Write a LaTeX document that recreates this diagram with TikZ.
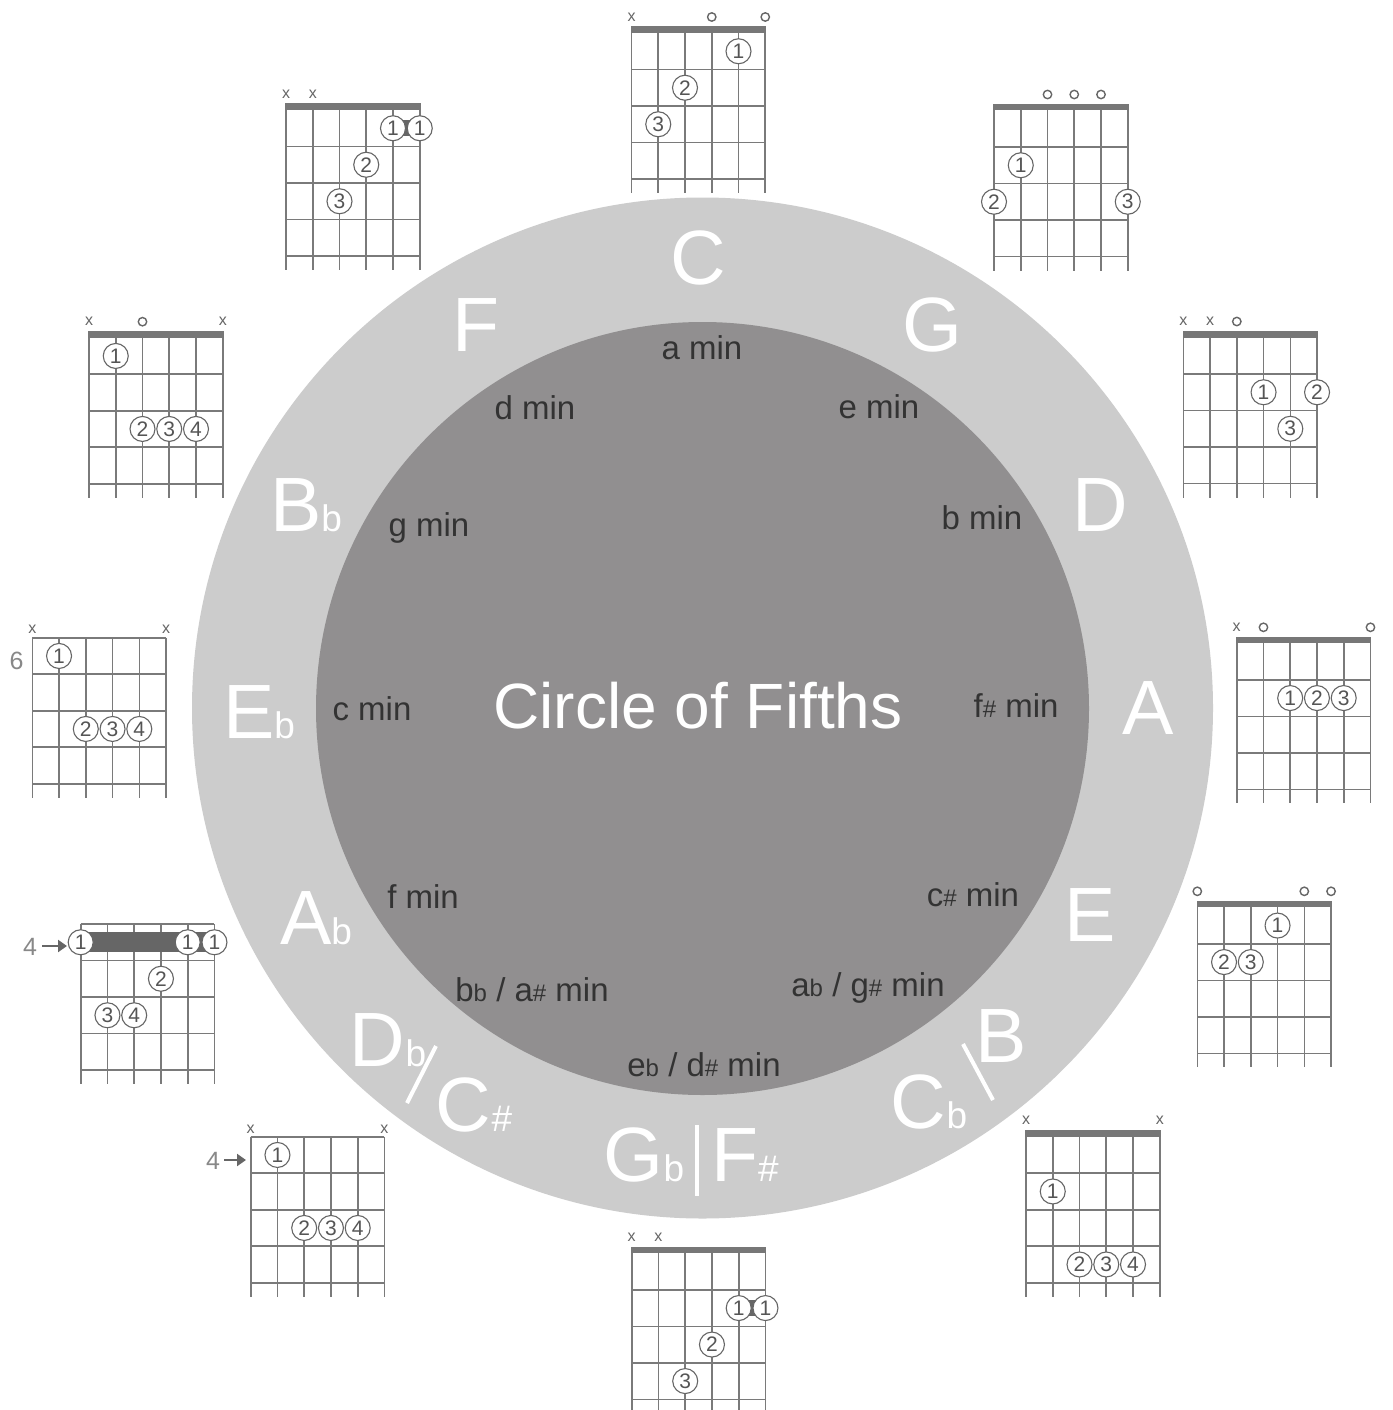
\documentclass[tikz,border=0pt]{standalone}
\usepackage{fontspec}
\setmainfont{Liberation Sans}
\usetikzlibrary{arrows.meta}
\definecolor{ring}{HTML}{CCCCCC}
\definecolor{disk}{HTML}{918F90}
\definecolor{minc}{HTML}{333333}
\definecolor{gline}{HTML}{7A7A7A}
\definecolor{nutc}{HTML}{777777}
\definecolor{fingc}{HTML}{666666}
\definecolor{numc}{HTML}{555555}
\definecolor{lblc}{HTML}{888888}
\newcommand\fsz[1]{\fontsize{#1}{#1}\selectfont}
\newcommand\sma[1]{{\fsz{37}#1}}
\newcommand\smi[1]{{\fsz{24}#1}}
\newcommand\grid[3]{%
  \def\gx{#1}\def\gy{#2}%
  \foreach \i in {0,...,5} \draw[strg] ({#1+\i*26.75},{#2}) -- ({#1+\i*26.75},{#2+160});
  \foreach \k in {1,...,4} \draw[strg] ({#1},{#2+\k*36.5}) -- ({#1+133.75},{#2+\k*36.5});
  \ifnum#3=1 \fill[nutc] ({#1-0.8},{#2-6.5}) rectangle ({#1+134.55},{#2});
  \else \draw[strg] ({#1},{#2}) -- ({#1+133.75},{#2}); \fi
}
\newcommand\fing[3]{\node[finger] at ({\gx+#1*26.75},{\gy+(#2-0.5)*36.5}) {#3};}
\newcommand\xm[2]{\node[xmk] at ({\gx+#1*26.75},{\gy-#2}) {x};}
\newcommand\om[2]{\draw[omk] ({\gx+#1*26.75},{\gy-#2}) circle (4.2);}
\newcommand\barre[4]{\fill[fingc] ({\gx+#1*26.75},{\gy+(#3-0.5)*36.5-#4}) rectangle ({\gx+#2*26.75},{\gy+(#3-0.5)*36.5+#4});}
\begin{document}
\begin{tikzpicture}[x=1pt,y=-1pt,
  strg/.style={draw=gline, line width=1.6pt},
  finger/.style={circle, draw=fingc, fill=white, line width=1.1pt, minimum size=25pt, inner sep=0pt, text=numc, font=\fsz{21}},
  xmk/.style={text=fingc, font=\fsz{16}, inner sep=0pt},
  omk/.style={draw=fingc, line width=1.4pt},
  maj/.style={text=white, font=\fsz{77}, inner sep=0pt},
  mino/.style={text=minc, font=\fsz{33}, inner sep=0pt},
  sep/.style={draw=white, line width=4pt},
  fretlbl/.style={text=lblc, font=\fsz{25}, inner sep=0pt},
  arr/.style={draw=fingc, line width=2.6pt, -{Triangle[length=9pt,width=12pt]}},
]
\useasboundingbox (0,0) rectangle (1392,1410);
\fill[white] (0,0) rectangle (1392,1410);
% circles
\fill[ring] (702.5,708) circle (510.5);
\fill[disk] (702.5,708.5) circle (386.5);
\node[text=white, font=\fsz{64}, inner sep=0pt] (title) at (698,706) {Circle of Fifths};
% major keys
\node[maj] (kC) at (698,258) {C};
\node[maj] (kG) at (932,325) {G};
\node[maj] (kD) at (1100,505) {D};
\node[maj] (kA) at (1148,708) {A};
\node[maj] (kE) at (1090,915) {E};
\node[maj] (kB) at (1001,1036) {B};
\node[maj] (kCb) at (929,1102) {C\sma{b}};
\node[maj] (kGb) at (644,1155) {G\sma{b}};
\node[maj] (kFs) at (745,1155) {F\sma{\#}};
\node[maj] (kDb) at (388,1040) {D\sma{b}};
\node[maj] (kCs) at (474,1105) {C\sma{\#}};
\node[maj] (kAb) at (316,918) {A\sma{b}};
\node[maj] (kEb) at (259,712) {E\sma{b}};
\node[maj] (kBb) at (306,505) {B\sma{b}};
\node[maj] (kF) at (476,325) {F};
\coordinate (s1a) at (407,1103); \coordinate (s1b) at (436,1046);
\coordinate (s2a) at (963,1044); \coordinate (s2b) at (993,1100);
\coordinate (s3a) at (697,1125); \coordinate (s3b) at (697,1196);
\draw[sep] (s1a) -- (s1b);
\draw[sep] (s2a) -- (s2b);
\draw[sep] (s3a) -- (s3b);
% minor keys
\node[mino] (ma) at (702,348) {a min};
\node[mino] (me) at (879,407) {e min};
\node[mino] (mb) at (982,518) {b min};
\node[mino] (mfs) at (1016,706) {f\smi{\#} min};
\node[mino] (mcs) at (973,895) {c\smi{\#} min};
\node[mino] (mab) at (868,988) {a\smi{b} / g\smi{\#} min};
\node[mino] (meb) at (704,1065) {e\smi{b} / d\smi{\#} min};
\node[mino] (mbb) at (532,990) {b\smi{b} / a\smi{\#} min};
\node[mino] (mf) at (423,897) {f min};
\node[mino] (mc) at (372,709) {c min};
\node[mino] (mg) at (429,528) {g min};
\node[mino] (md) at (535,408) {d min};
% C
\grid{631.5}{33}{1}
\xm{0}{16}\om{3}{16}\om{5}{16}
\fing{4}{1}{1}\fing{2}{2}{2}\fing{1}{3}{3}
% G
\grid{994}{110.5}{1}
\om{2}{16}\om{3}{16}\om{4}{16}
\fing{1}{2}{1}\fing{0}{3}{2}\fing{5}{3}{3}
% D
\grid{1183.3}{337.5}{1}
\xm{0}{16}\xm{1}{16}\om{2}{16}
\fing{3}{2}{1}\fing{5}{2}{2}\fing{4}{3}{3}
% A
\grid{1236.7}{643.3}{1}
\xm{0}{16}\om{1}{16}\om{5}{16}
\fing{2}{2}{1}\fing{3}{2}{2}\fing{4}{2}{3}
% E
\grid{1197.3}{907.3}{1}
\om{0}{16}\om{4}{16}\om{5}{16}
\fing{3}{1}{1}\fing{1}{2}{2}\fing{2}{2}{3}
% B
\grid{1026}{1136.7}{1}
\xm{0}{16}\xm{5}{16}
\fing{1}{2}{1}\fing{2}{4}{2}\fing{3}{4}{3}\fing{4}{4}{4}
% F#
\grid{631.7}{1253.3}{1}
\xm{0}{16}\xm{1}{16}
\barre{4}{5}{2}{8}
\fing{4}{2}{1}\fing{5}{2}{1}\fing{3}{3}{2}\fing{2}{4}{3}
% Db
\grid{250.7}{1136.7}{0}
\xm{0}{7}\xm{5}{7}
\fing{1}{1}{1}\fing{2}{3}{2}\fing{3}{3}{3}\fing{4}{3}{4}
\node[fretlbl] (n4a) at (213,1161) {4};
\coordinate (a1a) at (224,1160); \coordinate (a1b) at (246,1160);
\draw[arr] (a1a) -- (a1b);
% Ab
\grid{80.7}{924}{0}
\barre{0}{5}{1}{10}
\fing{0}{1}{1}\fing{4}{1}{1}\fing{5}{1}{1}\fing{3}{2}{2}\fing{1}{3}{3}\fing{2}{3}{4}
\node[fretlbl] (n4b) at (30,947) {4};
\coordinate (a2a) at (42,946); \coordinate (a2b) at (67,946);
\draw[arr] (a2a) -- (a2b);
% Eb
\grid{32.3}{637.7}{0}
\xm{0}{8}\xm{5}{8}
\fing{1}{1}{1}\fing{2}{3}{2}\fing{3}{3}{3}\fing{4}{3}{4}
\node[fretlbl] (n6) at (16.7,661) {6};
% Bb
\grid{89}{337.7}{1}
\xm{0}{16}\om{2}{16}\xm{5}{16}
\fing{1}{1}{1}\fing{2}{3}{2}\fing{3}{3}{3}\fing{4}{3}{4}
% F
\grid{286}{110}{1}
\xm{0}{16}\xm{1}{16}
\barre{4}{5}{1}{8}
\fing{4}{1}{1}\fing{5}{1}{1}\fing{3}{2}{2}\fing{2}{3}{3}
\end{tikzpicture}
\end{document}
